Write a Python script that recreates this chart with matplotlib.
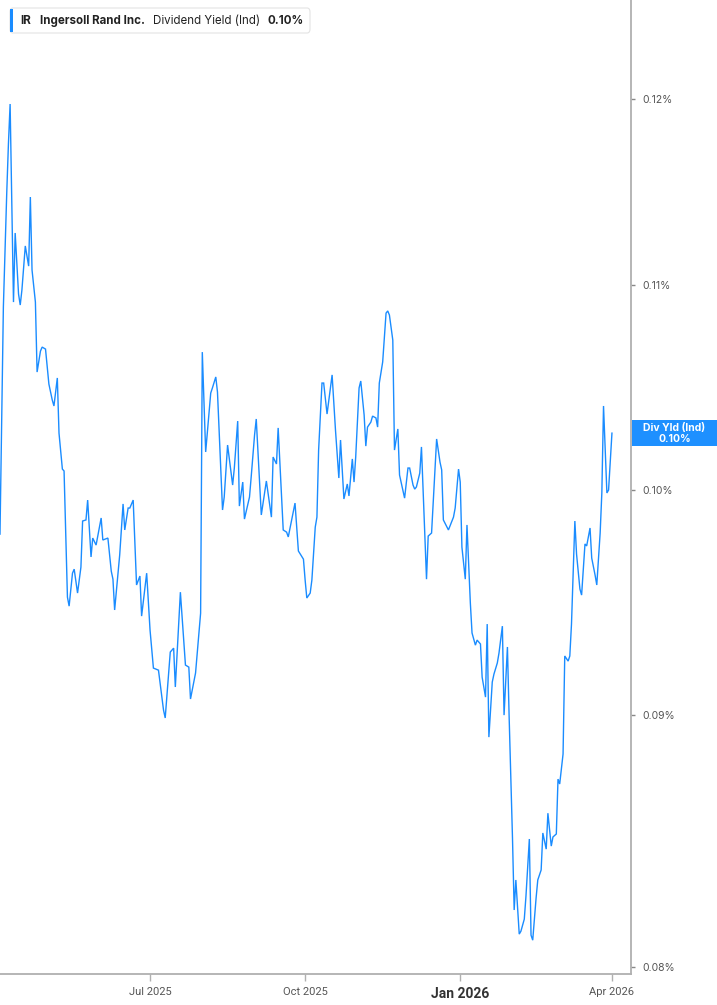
import matplotlib
matplotlib.use('Agg')
import matplotlib.pyplot as plt
from matplotlib.patches import FancyBboxPatch, Rectangle
from matplotlib.ticker import FixedLocator, NullLocator, FuncFormatter
import pandas as pd

# ---------------- data ----------------
dates = [
    '2025-04-03','2025-04-05','2025-04-07','2025-04-08','2025-04-09','2025-04-11','2025-04-12','2025-04-14',
    '2025-04-15','2025-04-16','2025-04-18','2025-04-20','2025-04-21','2025-04-22','2025-04-24','2025-04-25',
    '2025-04-27','2025-04-28','2025-04-30','2025-05-02','2025-05-04','2025-05-05','2025-05-07','2025-05-08',
    '2025-05-10','2025-05-11','2025-05-13','2025-05-14','2025-05-16','2025-05-17','2025-05-19','2025-05-21',
    '2025-05-22','2025-05-24','2025-05-25','2025-05-27','2025-05-28','2025-05-30','2025-06-02','2025-06-03',
    '2025-06-06','2025-06-08','2025-06-09','2025-06-10','2025-06-12','2025-06-13','2025-06-15','2025-06-16',
    '2025-06-18','2025-06-19','2025-06-21','2025-06-23','2025-06-25','2025-06-26','2025-06-29','2025-07-01',
    '2025-07-03','2025-07-06','2025-07-09','2025-07-10','2025-07-13','2025-07-15','2025-07-16','2025-07-19',
    '2025-07-22','2025-07-24','2025-07-25','2025-07-28','2025-07-31','2025-08-01','2025-08-03','2025-08-06',
    '2025-08-07','2025-08-09','2025-08-10','2025-08-13','2025-08-14','2025-08-16','2025-08-19','2025-08-20',
    '2025-08-22','2025-08-23','2025-08-25','2025-08-26','2025-08-29','2025-08-30','2025-09-01','2025-09-02',
    '2025-09-05','2025-09-08','2025-09-11','2025-09-12','2025-09-14','2025-09-15','2025-09-18','2025-09-20',
    '2025-09-21','2025-09-25','2025-09-27','2025-09-30','2025-10-01','2025-10-02','2025-10-04','2025-10-05',
    '2025-10-07','2025-10-08','2025-10-09','2025-10-11','2025-10-12','2025-10-14','2025-10-17','2025-10-19',
    '2025-10-21','2025-10-22','2025-10-24','2025-10-26','2025-10-27','2025-10-29','2025-10-30','2025-10-31',
    '2025-11-02','2025-11-03','2025-11-05','2025-11-06','2025-11-07','2025-11-09','2025-11-10','2025-11-12',
    '2025-11-13','2025-11-14','2025-11-16','2025-11-18','2025-11-19','2025-11-20','2025-11-22','2025-11-23',
    '2025-11-25','2025-11-26','2025-11-29','2025-12-01','2025-12-02','2025-12-04','2025-12-05','2025-12-06',
    '2025-12-08','2025-12-09','2025-12-12','2025-12-13','2025-12-15','2025-12-18','2025-12-20','2025-12-21',
    '2025-12-22','2025-12-25','2025-12-28','2025-12-29','2025-12-31','2026-01-01','2026-01-02','2026-01-04',
    '2026-01-05','2026-01-07','2026-01-08','2026-01-10','2026-01-11','2026-01-13','2026-01-14','2026-01-16',
    '2026-01-17','2026-01-18','2026-01-20','2026-01-21','2026-01-23','2026-01-24','2026-01-26','2026-01-27',
    '2026-01-29','2026-01-30','2026-02-01','2026-02-02','2026-02-03','2026-02-05','2026-02-06','2026-02-08',
    '2026-02-09','2026-02-11','2026-02-12','2026-02-13','2026-02-15','2026-02-16','2026-02-18','2026-02-19',
    '2026-02-21','2026-02-22','2026-02-24','2026-02-25','2026-02-27','2026-02-28','2026-03-01','2026-03-03',
    '2026-03-04','2026-03-06','2026-03-07','2026-03-08','2026-03-10','2026-03-11','2026-03-13','2026-03-14',
    '2026-03-16','2026-03-17','2026-03-19','2026-03-20','2026-03-22','2026-03-23','2026-03-25','2026-03-26',
    '2026-03-27','2026-03-29','2026-03-30','2026-04-01',
]
yield_pct = [
    0.09794,0.10890,0.11486,0.11752,0.11973,0.10915,0.11273,0.10956,
    0.10900,0.10977,0.11205,0.11100,0.11464,0.11080,0.10915,0.10564,
    0.10668,0.10688,0.10678,0.10505,0.10427,0.10398,0.10535,0.10267,
    0.10096,0.10087,0.09510,0.09470,0.09617,0.09635,0.09528,0.09644,
    0.09854,0.09859,0.09951,0.09690,0.09776,0.09744,0.09868,0.09767,
    0.09776,0.09626,0.09590,0.09453,0.09617,0.09699,0.09933,0.09813,
    0.09914,0.09914,0.09951,0.09564,0.09604,0.09426,0.09617,0.09365,
    0.09200,0.09191,0.09021,0.08988,0.09269,0.09286,0.09119,0.09532,
    0.09213,0.09204,0.09068,0.09179,0.09439,0.10663,0.10177,0.10461,
    0.10486,0.10540,0.10466,0.09905,0.09965,0.10210,0.10021,0.10101,
    0.10325,0.09923,0.10035,0.09863,0.09965,0.10059,0.10258,0.10335,
    0.09882,0.10040,0.09872,0.10153,0.10120,0.10292,0.09813,0.09803,
    0.09781,0.09937,0.09717,0.09680,0.09586,0.09506,0.09528,0.09586,
    0.09826,0.09872,0.10186,0.10510,0.10510,0.10359,0.10550,0.10282,
    0.10054,0.10234,0.09956,0.10026,0.09970,0.10144,0.10035,0.10153,
    0.10486,0.10520,0.10354,0.10205,0.10296,0.10320,0.10349,0.10340,
    0.10296,0.10510,0.10614,0.10859,0.10870,0.10849,0.10723,0.10186,
    0.10287,0.10068,0.09960,0.10101,0.10101,0.10021,0.10002,0.10012,
    0.10077,0.10201,0.09590,0.09785,0.09799,0.10239,0.10129,0.10092,
    0.09859,0.09813,0.09872,0.09914,0.10096,0.10035,0.09735,0.09590,
    0.09836,0.09484,0.09352,0.09299,0.09321,0.09304,0.09161,0.09076,
    0.09391,0.08908,0.09140,0.09174,0.09222,0.09265,0.09382,0.09000,
    0.09291,0.08996,0.08498,0.08217,0.08333,0.08125,0.08136,0.08182,
    0.08271,0.08494,0.08121,0.08102,0.08263,0.08333,0.08372,0.08518,
    0.08454,0.08597,0.08466,0.08502,0.08514,0.08735,0.08715,0.08838,
    0.09252,0.09230,0.09252,0.09391,0.09854,0.09703,0.09546,0.09519,
    0.09749,0.09740,0.09822,0.09685,0.09608,0.09564,0.09799,0.09984,
    0.10398,0.09984,0.09998,0.10267,
]
ytick_vals = [0.08, 0.09, 0.10, 0.11, 0.12]
xtick_dates = ['2025-07-01', '2025-10-01', '2026-01-01', '2026-04-01']
xtick_labels = ['Jul 2025', 'Oct 2025', 'Jan 2026', 'Apr 2026']
ticker_sym = 'IR'
company = 'Ingersoll Rand Inc.'
metric = 'Dividend Yield (Ind)'
last_label = '0.10%'
tag_title = 'Div Yld (Ind)'

# ---------------- figure ----------------
W, H = 717, 1005
fig = plt.figure(figsize=(W / 100, H / 100), dpi=100)
fig.patch.set_facecolor('white')

ax_left, ax_right, ax_bottom = 0, 631, 974
ax = fig.add_axes([ax_left / W, 1 - ax_bottom / H, (ax_right - ax_left) / W, ax_bottom / H])
ax.set_facecolor('white')

line_color = '#1a8cff'
ax.plot(pd.to_datetime(dates), yield_pct, color=line_color, lw=1.0, solid_joinstyle='miter')

ax.set_yscale('log')
ax.set_ylim(0.07975, 0.12569)
x0 = pd.Timestamp('2025-04-03')
ax.set_xlim(x0, x0 + pd.Timedelta(days=374.3))

ax.yaxis.set_major_locator(FixedLocator(ytick_vals))
ax.yaxis.set_minor_locator(NullLocator())
ax.yaxis.set_major_formatter(FuncFormatter(lambda v, p: f'{v:.2f}%'))
ax.yaxis.set_minor_formatter(FuncFormatter(lambda v, p: ''))
ax.yaxis.tick_right()

ax.set_xticks(pd.to_datetime(xtick_dates))
ax.set_xticklabels(xtick_labels)
ax.xaxis.set_minor_locator(NullLocator())

for s in ['left', 'top']:
    ax.spines[s].set_visible(False)
for s in ['right', 'bottom']:
    ax.spines[s].set_color('#b0b0b0')
    ax.spines[s].set_linewidth(1.3)

ax.tick_params(axis='y', which='major', direction='out', length=3, width=1,
               color='#888888', labelsize=7.5, labelcolor='#555555', pad=5)
ax.tick_params(axis='x', which='major', direction='out', length=5, width=1,
               color='#b0b0b0', labelsize=8, labelcolor='#555555', pad=4)
for lab in ax.get_yticklabels():
    lab.set_fontfamily('Inter')
for lab in ax.get_xticklabels():
    lab.set_fontfamily('Roboto')
    if lab.get_text() == 'Jan 2026':
        lab.set_fontweight('bold')
        lab.set_fontsize(10)
        lab.set_color('#333333')

# ---------------- header legend box ----------------
def fx(px):
    return px / W

def fy(py):
    return 1 - py / H

box = FancyBboxPatch((fx(10), fy(33)), fx(310) - fx(10), fy(8) - fy(33),
                     boxstyle='round,pad=0,rounding_size=0.004',
                     transform=fig.transFigure, facecolor='white',
                     edgecolor='#e3e3e3', lw=0.8, zorder=5)
fig.add_artist(box)
fig.add_artist(Rectangle((fx(10), fy(32)), fx(13) - fx(10), fy(9) - fy(32),
                         transform=fig.transFigure, facecolor=line_color,
                         edgecolor='none', zorder=6))
ty = fy(21)
hdr = dict(va='center', ha='left', fontsize=8.3, color='#222222', family='Inter', zorder=7)
fig.text(fx(20), ty, ticker_sym, fontweight='bold', **hdr)
fig.text(fx(40), ty, company, fontweight='bold', **hdr)
fig.text(fx(153), ty, metric, fontweight='normal', **hdr)
fig.text(fx(267), ty, last_label, fontweight='bold', **hdr)

# ---------------- last value tag ----------------
fig.canvas.draw()
last_y_disp = ax.transData.transform((ax.get_xlim()[0], yield_pct[-1]))[1]
tag_center_py = H - last_y_disp
tag_top, tag_bot = tag_center_py - 13, tag_center_py + 13
fig.add_artist(Rectangle((fx(632), fy(tag_bot)), fx(717) - fx(632), fy(tag_top) - fy(tag_bot),
                         transform=fig.transFigure, facecolor='#1e90ff',
                         edgecolor='none', zorder=6))
fig.text(fx(674.5), fy(tag_center_py - 5.5), tag_title, ha='center', va='center',
         fontsize=7.5, fontweight='bold', color='white', family='Inter', zorder=7)
fig.text(fx(674.5), fy(tag_center_py + 5.5), f'{yield_pct[-1]:.2f}%', ha='center', va='center',
         fontsize=7.5, fontweight='bold', color='white', family='Inter', zorder=7)

fig.savefig('out.png', dpi=100, facecolor='white')
